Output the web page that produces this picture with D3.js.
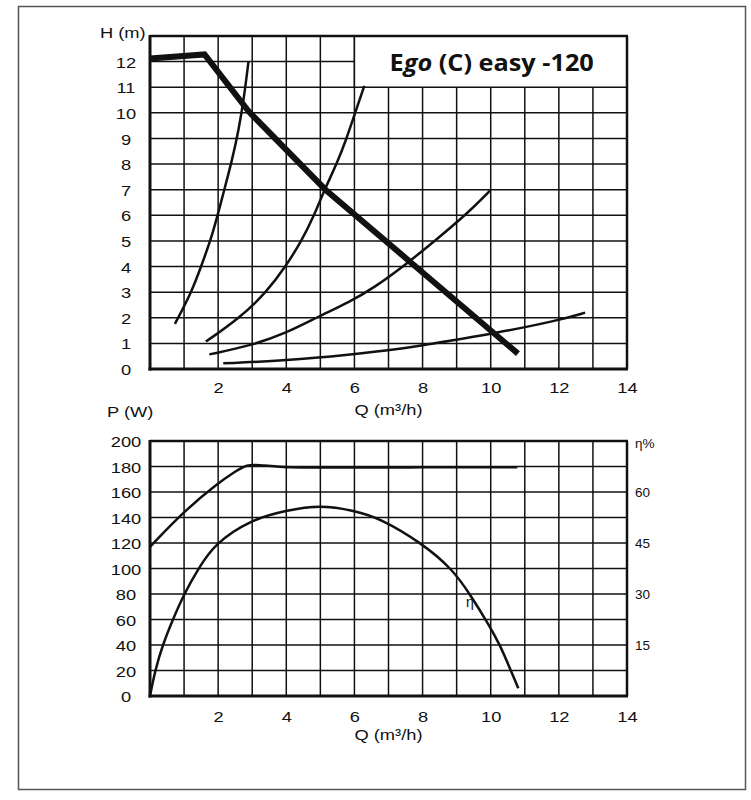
<!DOCTYPE html>
<html><head><meta charset="utf-8">
<script src="https://cdn.jsdelivr.net/npm/d3@7"></script>
<style>
html,body{margin:0;padding:0;background:#fff;}
svg{display:block;font-family:"Liberation Sans",Arial,sans-serif;}
</style></head>
<body>
<svg id="c" width="751" height="800"></svg>
<script>
// ---- data ----
const qTicks = [2,4,6,8,10,12,14];
const hTicks = [0,1,2,3,4,5,6,7,8,9,10,11,12];
const pTicks = [0,20,40,60,80,100,120,140,160,180,200];
const etaTicks = [15,30,45,60];
const titleText = ["E","go"," (C) easy -120"];

// max curve (thick): Q, H
const maxQ = [0, 1.6, 2.9, 5.15, 7.63, 10.8];
const maxH = [12.12, 12.28, 10.05, 7.0, 4.19, 0.6];
// system curves
const sys1Q = [0.73, 1.22, 1.5, 1.85, 2.12, 2.4, 2.6, 2.76, 2.89];
const sys1H = [1.76, 3.0, 4.0, 5.3, 6.7, 8.1, 9.3, 10.6, 12.0];
const sys2Q = [1.64, 2.64, 3.42, 3.98, 4.45, 4.82, 5.12, 5.48, 5.77, 6.02, 6.29];
const sys2H = [1.07, 2.0, 3.0, 4.0, 5.0, 6.0, 7.0, 8.0, 9.0, 10.0, 11.05];
const sys3Q = [1.74, 2.98, 4.0, 4.93, 5.87, 6.6, 7.43, 8.36, 9.34, 9.98];
const sys3H = [0.57, 0.92, 1.4, 2.04, 2.62, 3.2, 4.0, 5.0, 6.1, 6.96];
const sys4Q = [2.15, 4.0, 5.87, 7.34, 8.0, 10.0, 12.0, 12.77];
const sys4H = [0.22, 0.33, 0.56, 0.78, 0.93, 1.36, 1.9, 2.2];
// power P (W)
const powQ = [0, 1, 2, 2.5, 2.84, 3.2, 3.8, 5, 8, 10.78];
const powP = [117, 145, 167, 176, 181.6, 181.3, 179.4, 179.2, 179.3, 179.5];
// efficiency eta (%)
const etaQ = [0, 0.15, 0.37, 0.67, 1.0, 1.42, 1.9, 2.94, 4.0, 5.0, 6.0, 6.75, 7.97, 8.86, 9.39, 9.98, 10.27, 10.55, 10.81];
const etaV = [0, 7.5, 15, 22.5, 30, 37.5, 44.8, 51.8, 54.6, 56.2, 54.5, 52.3, 45, 37.5, 30, 20.4, 15, 8.5, 2.25];

// ---- drawing ----
const svg = d3.select("#c");
const ink = "#111";
const SX = 1.18;
function stretch(sel, sx){
  sel.each(function(){
    const t = d3.select(this);
    const X = +t.attr("x") || 0, Y = +t.attr("y") || 0;
    t.attr("transform", `translate(${X},${Y}) scale(${sx},1)`).attr("x",0).attr("y",0);
  });
}
svg.append("rect").attr("x",18.5).attr("y",6.5).attr("width",727).attr("height",783)
  .attr("fill","none").attr("stroke","#555").attr("stroke-width",1.5);

const x = d3.scaleLinear().domain([0,14]).range([150,627]);
const yH = d3.scaleLinear().domain([0,13]).range([369,36]);
const yP = d3.scaleLinear().domain([0,200]).range([696,441]);
const yE = d3.scaleLinear().domain([0,75]).range([696,441]);
const gridQ = d3.range(1,14);

function grid(g, yScale, hVals){
  g.selectAll("line.v").data(gridQ).join("line").attr("class","v")
    .attr("x1",d=>x(d)).attr("x2",d=>x(d)).attr("y1",yScale.range()[0]).attr("y2",yScale.range()[1])
    .attr("stroke",ink).attr("stroke-width",1.5);
  g.selectAll("line.h").data(hVals).join("line").attr("class","h")
    .attr("x1",x(0)).attr("x2",x(14)).attr("y1",d=>yScale(d)).attr("y2",d=>yScale(d))
    .attr("stroke",ink).attr("stroke-width",1.5);
}
function frame(g, yScale){
  const y0 = yScale.range()[0], y1 = yScale.range()[1];
  g.append("line").attr("x1",x(0)).attr("x2",x(14)+1).attr("y1",y1).attr("y2",y1).attr("stroke",ink).attr("stroke-width",2.5);
  g.append("line").attr("x1",x(14)).attr("x2",x(14)).attr("y1",y1).attr("y2",y0).attr("stroke",ink).attr("stroke-width",2.5);
  g.append("line").attr("x1",x(0)).attr("x2",x(0)).attr("y1",y1-1).attr("y2",y0+1.5).attr("stroke",ink).attr("stroke-width",3);
  g.append("line").attr("x1",x(0)-1.5).attr("x2",x(14)+1).attr("y1",y0).attr("y2",y0).attr("stroke",ink).attr("stroke-width",3);
}
const fs = 15.5;

// ---- top chart ----
const gTop = svg.append("g");
grid(gTop, yH, d3.range(1,13));
gTop.append("rect").attr("x",x(6)).attr("y",yH(13)).attr("width",x(14)-x(6)).attr("height",yH(11)-yH(13))
  .attr("fill","#fff").attr("stroke",ink).attr("stroke-width",1.5);
const tt = gTop.append("text").attr("x",(x(6)+x(14))/2+1).attr("y",71).attr("text-anchor","middle")
  .attr("font-family","'Open Sans',sans-serif").attr("font-weight",700).attr("font-size",23).attr("fill",ink);
tt.append("tspan").text(titleText[0]);
tt.append("tspan").attr("font-style","italic").text(titleText[1]);
tt.append("tspan").text(titleText[2]);
stretch(tt, 1.1);
frame(gTop, yH);

const lineH = d3.line().x(d=>x(d[0])).y(d=>yH(d[1])).curve(d3.curveBasis);
const sysCurves = [[sys1Q,sys1H],[sys2Q,sys2H],[sys3Q,sys3H],[sys4Q,sys4H]];
sysCurves.forEach(([qs,hs])=>{
  gTop.append("path").datum(qs.map((q,i)=>[q,hs[i]]))
    .attr("d",lineH)
    .attr("fill","none").attr("stroke",ink).attr("stroke-width",2.5);
});
gTop.append("path").datum(maxQ.map((q,i)=>[q,maxH[i]]))
  .attr("d",d3.line().x(d=>x(d[0])).y(d=>yH(d[1])))
  .attr("fill","none").attr("stroke",ink).attr("stroke-width",6).attr("stroke-linejoin","miter");

const axL = gTop.append("g").attr("transform",`translate(${x(0)},0)`)
  .call(d3.axisLeft(yH).tickValues(hTicks).tickSize(0));
axL.select(".domain").remove();
axL.selectAll("text").attr("x",-24).attr("text-anchor","middle").attr("font-size",fs)
  .attr("font-family","'Liberation Sans',Arial,sans-serif").attr("fill",ink).attr("dy","0.36em");
stretch(axL.selectAll("text"), SX);
const axB = gTop.append("g").attr("transform",`translate(0,${yH(0)})`)
  .call(d3.axisBottom(x).tickValues(qTicks).tickSize(0));
axB.select(".domain").remove();
axB.selectAll("text").attr("y",24).attr("dy",0).attr("font-size",fs)
  .attr("font-family","'Liberation Sans',Arial,sans-serif").attr("fill",ink);
stretch(axB.selectAll("text"), SX);
stretch(gTop.append("text").attr("x",x(7)).attr("y",415).attr("text-anchor","middle").attr("font-size",fs).attr("fill",ink).text("Q (m³/h)"), SX);
stretch(gTop.append("text").attr("x",100).attr("y",38).attr("font-size",fs).attr("fill",ink).text("H (m)"), SX);

// ---- bottom chart ----
const gBot = svg.append("g");
grid(gBot, yP, d3.range(20,200,20));
frame(gBot, yP);

gBot.append("path").datum(powQ.map((q,i)=>[q,powP[i]]))
  .attr("d",d3.line().x(d=>x(d[0])).y(d=>yP(d[1])).curve(d3.curveBasis))
  .attr("fill","none").attr("stroke",ink).attr("stroke-width",2.5);
gBot.append("path").datum(etaQ.map((q,i)=>[q,etaV[i]]))
  .attr("d",d3.line().x(d=>x(d[0])).y(d=>yE(d[1])).curve(d3.curveBasis))
  .attr("fill","none").attr("stroke",ink).attr("stroke-width",2.5);
gBot.append("text").attr("x",470).attr("y",607).attr("text-anchor","middle").attr("font-size",14).attr("fill",ink).text("η");

const axL2 = gBot.append("g").attr("transform",`translate(${x(0)},0)`)
  .call(d3.axisLeft(yP).tickValues(pTicks).tickSize(0));
axL2.select(".domain").remove();
axL2.selectAll("text").attr("x",-24).attr("text-anchor","middle").attr("font-size",fs)
  .attr("font-family","'Liberation Sans',Arial,sans-serif").attr("fill",ink).attr("dy","0.36em");
stretch(axL2.selectAll("text"), SX);
const axR2 = gBot.append("g").attr("transform",`translate(${x(14)},0)`)
  .call(d3.axisRight(yE).tickValues(etaTicks).tickSize(0));
axR2.select(".domain").remove();
axR2.selectAll("text").attr("x",8).attr("text-anchor","start").attr("font-size",13.5)
  .attr("font-family","'Liberation Sans',Arial,sans-serif").attr("fill",ink).attr("dy","0.36em");
gBot.append("text").attr("x",x(14)+8).attr("y",448).attr("font-size",13.5).attr("fill",ink).text("η%");
const axB2 = gBot.append("g").attr("transform",`translate(0,${yP(0)})`)
  .call(d3.axisBottom(x).tickValues(qTicks).tickSize(0));
axB2.select(".domain").remove();
axB2.selectAll("text").attr("y",25.5).attr("dy",0).attr("font-size",fs)
  .attr("font-family","'Liberation Sans',Arial,sans-serif").attr("fill",ink);
stretch(axB2.selectAll("text"), SX);
stretch(gBot.append("text").attr("x",x(7)).attr("y",740).attr("text-anchor","middle").attr("font-size",fs).attr("fill",ink).text("Q (m³/h)"), SX);
stretch(gBot.append("text").attr("x",107).attr("y",417).attr("font-size",fs).attr("fill",ink).text("P (W)"), SX);
</script>
</body></html>
